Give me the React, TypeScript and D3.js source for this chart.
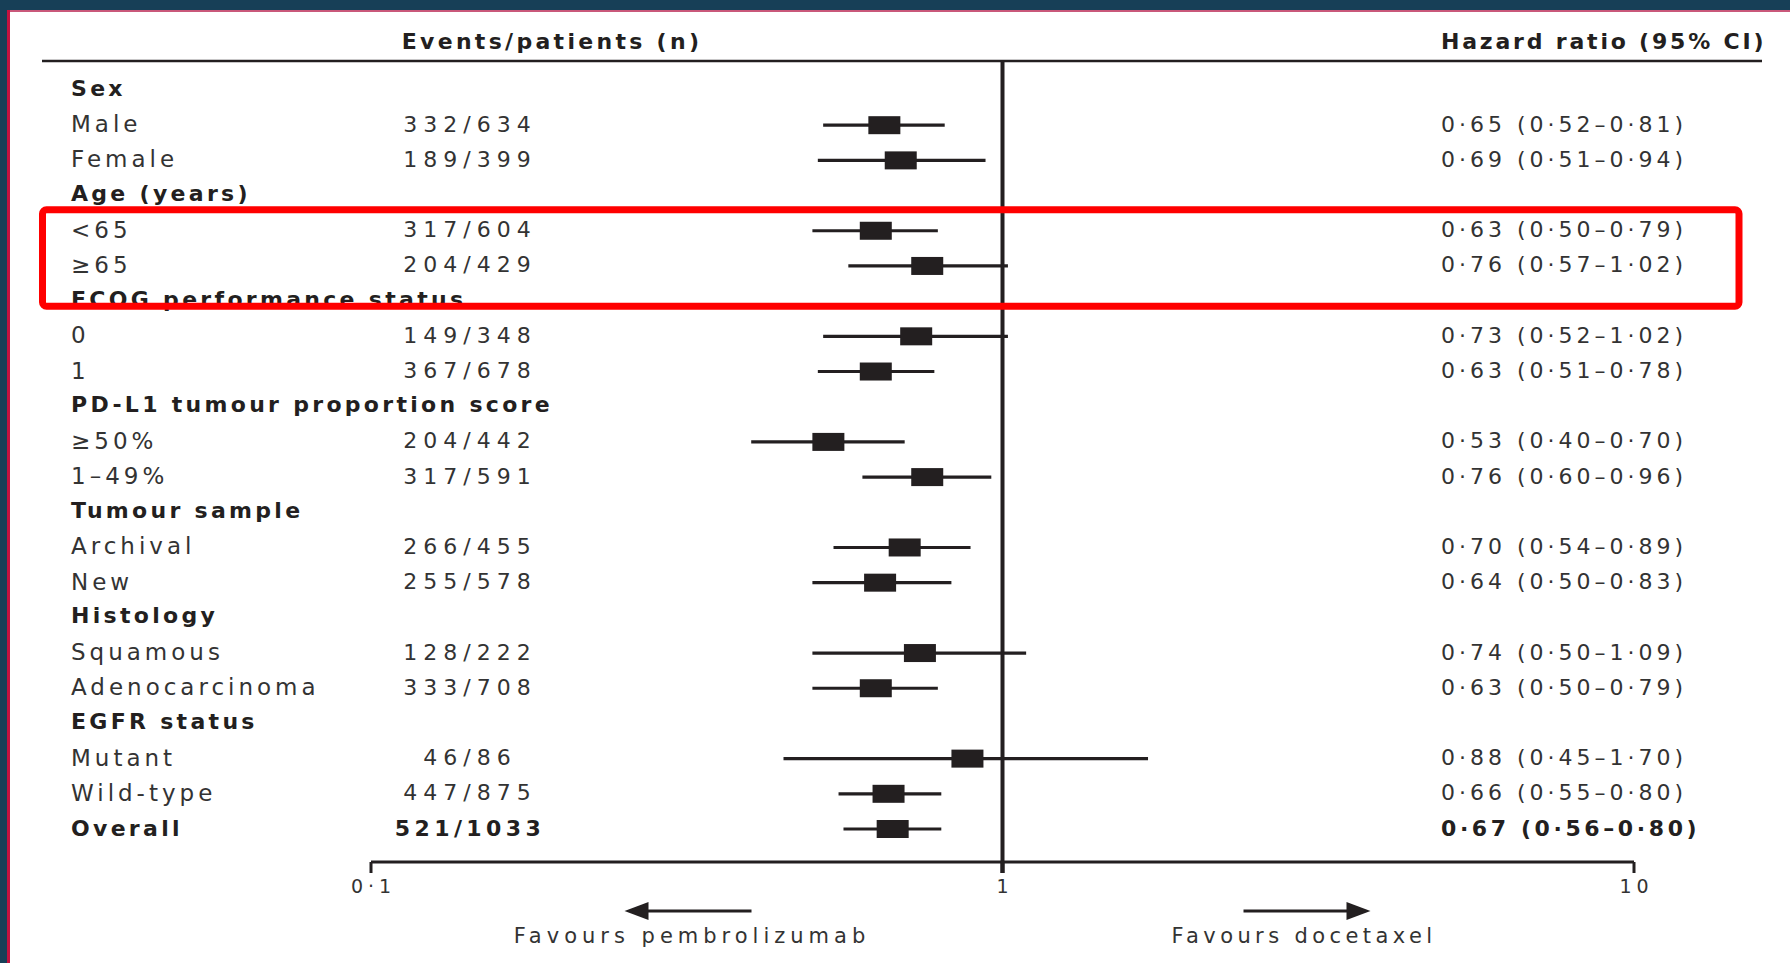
import React from "react";
import * as d3 from "d3";

const W = 1790;
const H = 963;

const rowLabels = [
  "Sex", "Male", "Female",
  "Age (years)", "<65", "≥65",
  "ECOG performance status", "0", "1",
  "PD-L1 tumour proportion score", "≥50%", "1–49%",
  "Tumour sample", "Archival", "New",
  "Histology", "Squamous", "Adenocarcinoma",
  "EGFR status", "Mutant", "Wild-type",
  "Overall",
];
const isHeader = [
  true, false, false,
  true, false, false,
  true, false, false,
  true, false, false,
  true, false, false,
  true, false, false,
  true, false, false,
  false,
];
const eventsText = [
  "", "332/634", "189/399",
  "", "317/604", "204/429",
  "", "149/348", "367/678",
  "", "204/442", "317/591",
  "", "266/455", "255/578",
  "", "128/222", "333/708",
  "", "46/86", "447/875",
  "521/1033",
];
const hrValues = [
  null, 0.65, 0.69,
  null, 0.63, 0.76,
  null, 0.73, 0.63,
  null, 0.53, 0.76,
  null, 0.70, 0.64,
  null, 0.74, 0.63,
  null, 0.88, 0.66,
  0.67,
];
const ciLow = [
  null, 0.52, 0.51,
  null, 0.50, 0.57,
  null, 0.52, 0.51,
  null, 0.40, 0.60,
  null, 0.54, 0.50,
  null, 0.50, 0.50,
  null, 0.45, 0.55,
  0.56,
];
const ciHigh = [
  null, 0.81, 0.94,
  null, 0.79, 1.02,
  null, 1.02, 0.78,
  null, 0.70, 0.96,
  null, 0.89, 0.83,
  null, 1.09, 0.79,
  null, 1.70, 0.80,
  0.80,
];
const axisTicks = [0.1, 1, 10];
const tickLabels = ["0·1", "1", "10"];
const highlightedRows = [4, 5];

const DARK = "#231f20";
const TEXT = "#333333";
const FONT = "'DejaVu Sans', sans-serif";

const fmt = d3.format(".2f");
const dot = (v: number) => fmt(v).replace(".", "·");

export default function App() {
  const x = d3.scaleLog().domain([0.1, 10]).range([371, 1634]);
  const y = d3
    .scalePoint<number>()
    .domain(rowLabels.map((_, i) => i))
    .range([89, 828]);

  const axisY = 862;
  const headerLineY = 61;
  const boxW = 32;
  const boxH = 18;
  const x1 = x(1);

  const hlTop = (y(highlightedRows[0]) as number) - 20;
  const hlBottom = (y(highlightedRows[1] + 1) as number) + 6;

  return (
    <svg
      width={W}
      height={H}
      style={{ position: "absolute", left: 0, top: 0, display: "block", background: "#fff" }}
      fontFamily={FONT}
    >
      <rect x={0} y={0} width={W} height={H} fill="#ffffff" />
      {/* frame */}
      <rect x={0} y={0} width={W} height={10} fill="#173f57" />
      <rect x={0} y={0} width={7} height={H} fill="#173f57" />
      <rect x={7} y={10} width={W - 7} height={2} fill="#c9587a" />
      <rect x={7} y={10} width={3} height={H - 10} fill="#c2123f" />

      {/* column headers */}
      <text x={552} y={41} textAnchor="middle" dominantBaseline="central" fontSize={22} fontWeight="bold" letterSpacing={3.3} fill={DARK}>
        Events/patients (n)
      </text>
      <text x={1441} y={41} textAnchor="start" dominantBaseline="central" fontSize={22} fontWeight="bold" letterSpacing={2.8} fill={DARK}>
        Hazard ratio (95% CI)
      </text>
      <line x1={42} x2={1762} y1={headerLineY} y2={headerLineY} stroke={DARK} strokeWidth={2.5} />

      {/* reference line at HR = 1 */}
      <line x1={x1} x2={x1} y1={headerLineY} y2={axisY + 11} stroke={DARK} strokeWidth={4} />

      {/* rows */}
      {rowLabels.map((lab, i) => {
        const yy = y(i) as number;
        const bold = isHeader[i] || lab === "Overall";
        return (
          <g key={i}>
            <text
              x={71}
              y={isHeader[i] ? yy - 1 : yy}
              dominantBaseline="central"
              fontSize={bold ? 22 : 23}
              fontWeight={bold ? "bold" : "normal"}
              letterSpacing={bold ? 3.3 : 4}
              fill={bold ? DARK : TEXT}
            >
              {lab}
            </text>
            {eventsText[i] !== "" && (
              <text
                x={470}
                y={yy}
                textAnchor="middle"
                dominantBaseline="central"
                fontSize={22}
                fontWeight={bold ? "bold" : "normal"}
                letterSpacing={bold ? 4.4 : 6}
                fill={bold ? DARK : TEXT}
              >
                {eventsText[i]}
              </text>
            )}
            {hrValues[i] != null && (
              <text
                x={1441}
                y={yy}
                textAnchor="start"
                dominantBaseline="central"
                fontSize={22}
                fontWeight={bold ? "bold" : "normal"}
                letterSpacing={bold ? 3.6 : 4}
                fill={bold ? DARK : TEXT}
              >
                {`${dot(hrValues[i] as number)} (${dot(ciLow[i] as number)}–${dot(ciHigh[i] as number)})`}
              </text>
            )}
            {hrValues[i] != null && (
              <g>
                <line
                  x1={x(ciLow[i] as number)}
                  x2={x(ciHigh[i] as number)}
                  y1={yy + 1}
                  y2={yy + 1}
                  stroke={DARK}
                  strokeWidth={3.2}
                />
                <rect
                  x={x(hrValues[i] as number) - boxW / 2}
                  y={yy + 1 - boxH / 2}
                  width={boxW}
                  height={boxH}
                  fill={DARK}
                />
              </g>
            )}
          </g>
        );
      })}

      {/* axis */}
      <line x1={x(0.1)} x2={x(10)} y1={axisY} y2={axisY} stroke={DARK} strokeWidth={3} />
      {axisTicks.map((t, i) => (
        <g key={t}>
          <line x1={x(t)} x2={x(t)} y1={axisY} y2={axisY + 11} stroke={DARK} strokeWidth={t === 1 ? 4 : 3} />
          <text x={x(t) + 2.5} y={886} textAnchor="middle" dominantBaseline="central" fontSize={19} letterSpacing={5} fill={TEXT}>
            {tickLabels[i]}
          </text>
        </g>
      ))}

      {/* direction arrows */}
      <line x1={x1 - 251} x2={x1 - 360} y1={911} y2={911} stroke={DARK} strokeWidth={3} />
      <path d={`M${x1 - 378},911 L${x1 - 354},902 L${x1 - 354},920 Z`} fill={DARK} />
      <line x1={x1 + 241} x2={x1 + 350} y1={911} y2={911} stroke={DARK} strokeWidth={3} />
      <path d={`M${x1 + 368},911 L${x1 + 344},902 L${x1 + 344},920 Z`} fill={DARK} />
      <text x={692} y={936} textAnchor="middle" dominantBaseline="central" fontSize={21} letterSpacing={5} fill={TEXT}>
        Favours pembrolizumab
      </text>
      <text x={1304} y={936} textAnchor="middle" dominantBaseline="central" fontSize={21} letterSpacing={4.4} fill={TEXT}>
        Favours docetaxel
      </text>

      {/* highlight box */}
      <rect
        x={42.5}
        y={hlTop}
        width={1739 - 42.5}
        height={hlBottom - hlTop}
        rx={4}
        fill="none"
        stroke="#ff0000"
        strokeWidth={7}
      />
    </svg>
  );
}
